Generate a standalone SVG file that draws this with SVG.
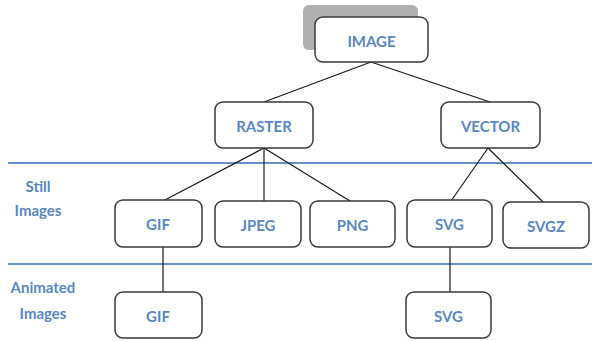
<svg xmlns="http://www.w3.org/2000/svg" width="592" height="341" viewBox="0 0 592 341">
  <style>
    .box { fill: #ffffff; stroke: #3a3a3a; stroke-width: 1.5; }
    .lbl { font-family: Lato, "Open Sans", "Liberation Sans", sans-serif; font-size: 15px; font-weight: bold; fill: #5a86c2; text-anchor: middle; dominant-baseline: central; }
    .edge { stroke: #1a1a1a; stroke-width: 1.2; fill: none; }
    .band { stroke: #6a90c9; stroke-width: 2; }
  </style>
  <rect width="592" height="341" fill="#ffffff"/>

  <!-- band separators and row labels -->
  <g id="bands">
    <line class="band" x1="8" y1="163" x2="592" y2="163"/>
    <line class="band" x1="8" y1="264" x2="592" y2="264"/>
    <text class="lbl" x="38" y="186">Still</text>
    <text class="lbl" x="38" y="210">Images</text>
    <text class="lbl" x="43" y="287">Animated</text>
    <text class="lbl" x="43" y="313">Images</text>
  </g>

  <g id="connectors">
    <line class="edge" x1="371" y1="62" x2="264" y2="102"/>
    <line class="edge" x1="371" y1="62" x2="490" y2="102"/>
    <line class="edge" x1="264" y1="148" x2="163" y2="201"/>
    <line class="edge" x1="264" y1="148" x2="264" y2="201"/>
    <line class="edge" x1="264" y1="148" x2="350" y2="201"/>
    <line class="edge" x1="488" y1="148" x2="451" y2="201"/>
    <line class="edge" x1="488" y1="148" x2="543" y2="202"/>
    <line class="edge" x1="163" y1="247" x2="163" y2="292"/>
    <line class="edge" x1="450" y1="247" x2="450" y2="292"/>
  </g>

  <g id="image">
    <rect x="303" y="5" width="115" height="45" rx="6" fill="#b0b0b0"/>
    <rect class="box" x="315" y="17" width="113" height="45" rx="8"/>
    <text class="lbl" x="371.5" y="41">IMAGE</text>
  </g>
  <g id="raster">
    <rect class="box" x="215" y="102" width="98" height="46" rx="8"/>
    <text class="lbl" x="264" y="126">RASTER</text>
  </g>
  <g id="vector">
    <rect class="box" x="441" y="102" width="99" height="46" rx="8"/>
    <text class="lbl" x="490.5" y="126">VECTOR</text>
  </g>
  <g id="gif-still">
    <rect class="box" x="115" y="200" width="87" height="47" rx="8"/>
    <text class="lbl" x="158" y="224">GIF</text>
  </g>
  <g id="jpeg">
    <rect class="box" x="215" y="201" width="86" height="46" rx="8"/>
    <text class="lbl" x="258" y="225">JPEG</text>
  </g>
  <g id="png">
    <rect class="box" x="310" y="201" width="85" height="46" rx="8"/>
    <text class="lbl" x="352.5" y="225">PNG</text>
  </g>
  <g id="svg-still">
    <rect class="box" x="407" y="200" width="85" height="47" rx="8"/>
    <text class="lbl" x="449.5" y="224">SVG</text>
  </g>
  <g id="svgz">
    <rect class="box" x="503" y="202" width="86" height="46" rx="8"/>
    <text class="lbl" x="546" y="226">SVGZ</text>
  </g>
  <g id="gif-animated">
    <rect class="box" x="115" y="292" width="87" height="46" rx="8"/>
    <text class="lbl" x="158" y="316">GIF</text>
  </g>
  <g id="svg-animated">
    <rect class="box" x="406" y="292" width="85" height="46" rx="8"/>
    <text class="lbl" x="448.5" y="316">SVG</text>
  </g>
</svg>
